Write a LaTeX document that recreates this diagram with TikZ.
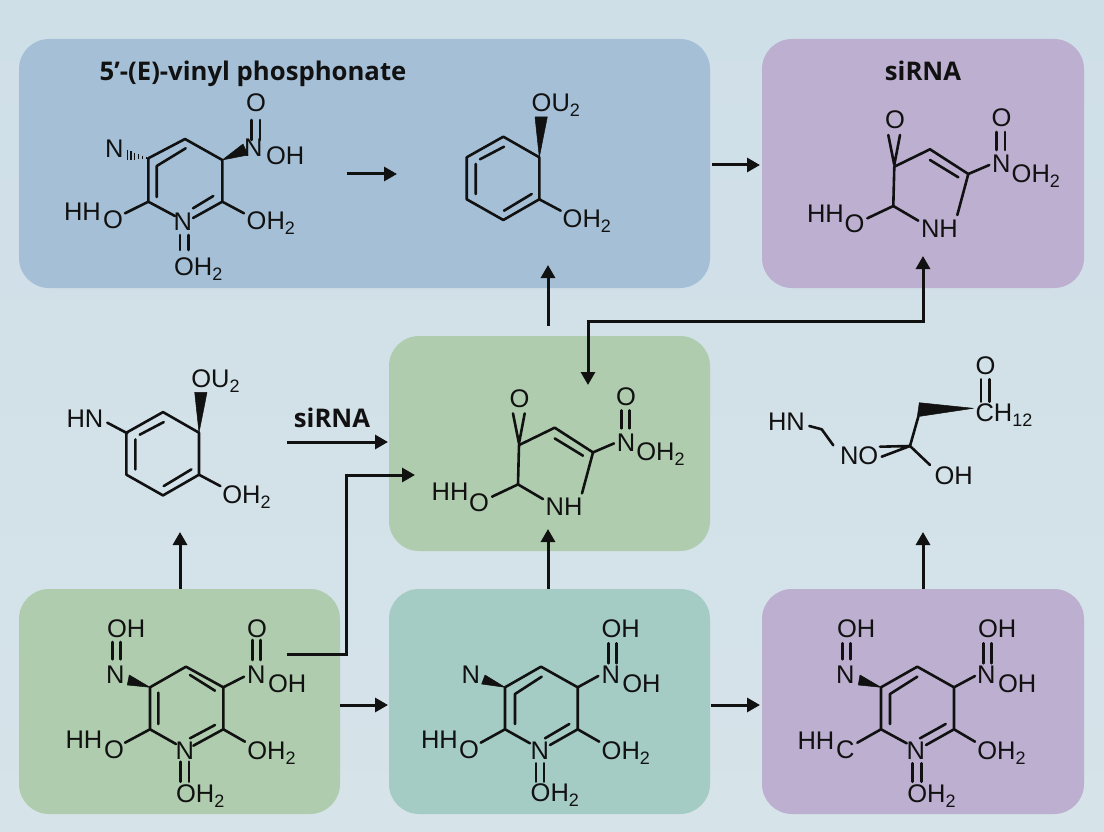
\documentclass[tikz,border=0pt]{standalone}
\usepackage{fontspec}
\setmainfont{Liberation Sans}
\newfontfamily\titlefont{Open Sans}[BoldFont={Open Sans Bold}]
\usetikzlibrary{arrows.meta}
\definecolor{bgtop}{HTML}{CFDFE8}
\definecolor{bgbot}{HTML}{D6E3E9}
\definecolor{cblue}{HTML}{A5C0D6}
\definecolor{cpurple}{HTML}{BCAFD0}
\definecolor{cgreen}{HTML}{AFCDAE}
\definecolor{cteal}{HTML}{A5CBC5}
\definecolor{ink}{HTML}{111111}
\tikzset{
  boxnode/.style={rounded corners=30pt,inner sep=0pt,outer sep=0pt,draw=none},
  bond/.style={draw=ink,line width=2.6pt,line cap=round,line join=round},
  wedge/.style={fill=ink,draw=ink,line width=0.5pt,line join=round},
  flow/.style={draw=ink,line width=3pt,-{Triangle[length=13pt,width=14pt]}},
  flowboth/.style={draw=ink,line width=3pt,{Triangle[length=13pt,width=14pt]}-{Triangle[length=13pt,width=14pt]}},
  atom/.style={inner sep=0pt,outer sep=0pt,text=ink,font=\fontsize{25.5}{25.5}\selectfont,anchor=base west},
  heading/.style={inner sep=0pt,outer sep=0pt,text=ink,font=\titlefont\bfseries\fontsize{25.7}{25.7}\selectfont},
}
\newcommand{\low}[1]{{\fontsize{18}{18}\selectfont\raisebox{-5pt}{#1}}}
% name, x (left), y (centre), text
\newcommand{\lab}[4]{\node[atom] (#1) at (#2,#3) [yshift=-9pt] {#4};}
\newcommand{\two}{OH\low{2}}
% five-membered molecule of the siRNA boxes
\newcommand{\molring}[3]{%
\begin{scope}[shift={(#2,#3)}]
  \lab{#1o}{885}{120}{O}
  \lab{#1hh}{807}{213.3}{HH}
  \lab{#1ob}{844.5}{224}{O}
  \lab{#1nh}{921}{228.3}{NH}
  \lab{#1n}{992.2}{164}{N}
  \lab{#1ot}{991.5}{117.7}{O}
  \lab{#1oh}{1011.7}{173.3}{\two}
  \draw[bond] (888.3,135)--(894.3,165)--(900,135);
  \draw[bond] (893.3,206)--(894.3,166.7)--(930,149.3)--(968.3,174)--(957.3,215);
  \draw[bond] (930,160)--(958.3,177.3);
  \draw[bond] (918.3,220.7)--(893.3,206)--(867.3,218.3);
  \draw[bond] (968.3,174)--(989.3,165);
  \draw[bond] (996.7,132)--(996.7,150) (1005,132)--(1005,150);
\end{scope}}
% six-membered ring with wedge and OU2
\newcommand{\molphenyl}[3]{%
\begin{scope}[shift={(#2,#3)}]
  \lab{#1ou}{531.7}{103}{OU\low{2}}
  \lab{#1oh}{562.7}{219}{\two}
  \draw[bond] (539.3,157.3)--(503.3,136.7)--(466.7,157.3)--(466.7,199.3)--(503.3,220)--(539.3,199.3)--cycle;
  \draw[bond] (480,159.3)--(504,146.7) (475.7,164)--(475.7,194) (504,210.7)--(531.7,194);
  \draw[bond] (539.3,199.3)--(560.7,210.7);
  \fill[wedge] (539.3,157.3)--(535,117)--(547.3,117)--cycle;
\end{scope}}
\begin{document}
\begin{tikzpicture}[x=1pt,y=-1pt]
\useasboundingbox (0,0) rectangle (1104,832);
\shade[top color=bgtop,bottom color=bgbot] (0,0) rectangle (1104,832);
% boxes
\node[boxnode,fill=cblue,minimum width=691pt,minimum height=249pt] (bA) at (364.5,163.5) {};
\node[boxnode,fill=cpurple,minimum width=322pt,minimum height=249pt] (bB) at (923,163.5) {};
\node[boxnode,fill=cgreen,minimum width=321pt,minimum height=215pt] (bC) at (549.5,443.5) {};
\node[boxnode,fill=cgreen,minimum width=321pt,minimum height=225pt] (bD) at (179.5,701.5) {};
\node[boxnode,fill=cteal,minimum width=321pt,minimum height=225pt] (bE) at (549.5,701.5) {};
\node[boxnode,fill=cpurple,minimum width=322pt,minimum height=225pt] (bF) at (923,701.5) {};
% titles
\node[heading,anchor=center] (t1) at (253,74) {5’-(E)-vinyl phosphonate};
\node[heading,anchor=center] (t2) at (923,71) {siRNA};
\node[heading,anchor=center] (t3) at (332,418) {siRNA};

% molecule in the blue box, left
\lab{a1}{105}{148.3}{N}
\lab{a2}{244}{147.3}{N}
\lab{a3}{266}{156}{OH}
\lab{a4}{246.2}{102.3}{O}
\lab{a5}{64}{212}{HH}
\lab{a6}{103}{220}{O}
\lab{a7}{246.7}{220.7}{\two}
\lab{a8}{173.5}{221.5}{N}
\lab{a9}{174}{266.7}{\two}
\draw[bond] (148.3,201.7)--(148.3,158.3)--(185,139)--(222.3,160)--(222.3,201.7)--(193,218);
\draw[bond] (156.7,166)--(185.7,148.3) (156.7,166)--(156.7,197) (213.3,196)--(193,208.3);
\draw[bond] (175,216)--(148.3,201.7)--(125,213.3);
\draw[bond] (222.3,201.7)--(244,213.3);
\draw[bond] (180,235)--(180,250) (188.3,235)--(188.3,250);
\draw[bond] (251.7,120)--(251.7,140) (260,120)--(260,140);
\fill[wedge] (222.3,160)--(243,144)--(248,155)--cycle;
\foreach \t in {0.1,0.28,0.46,0.64,0.82,1}{
  \draw[ink,line width=1.2pt] ({148.3-21*\t},{158.3-3.3*\t-(0.5+4.5*\t)})--({148.3-21*\t},{158.3-3.3*\t+(0.5+4.5*\t)});
}

\molphenyl{b}{0}{0}
\molphenyl{e}{-340.3}{275.4}
\lab{ehn}{66.5}{418.3}{HN}
\draw[bond] (127.3,433.3)--(107.3,422.7);

\molring{c}{0}{0}
\molring{d}{-375.3}{278.4}

% molecule right of the centre
\lab{f1}{768}{421.7}{HN}
\lab{f2}{840}{455}{NO}
\lab{f3}{934.5}{475.7}{OH}
\lab{f4}{975.5}{412.7}{CH\low{12}}
\lab{f5}{975.5}{365}{O}
\draw[bond] (809.3,426)--(821.7,429.3)--(833.3,445.3);
\draw[bond] (880,446.7)--(910,446)--(881.7,456.7);
\draw[bond] (930,465)--(910,446)--(918.3,416.7);
\draw[bond] (981,379.3)--(981,401.7) (989.3,379.3)--(989.3,401.7);
\fill[wedge] (973.3,408.3)--(919.3,402.7)--(917.3,416.7)--cycle;

% molecule G
\lab{g1}{107}{628.3}{OH}
\lab{g2}{106.2}{674}{N}
\lab{g3}{247.2}{674}{N}
\lab{g4}{268}{683.3}{OH}
\lab{g5}{247.2}{628.3}{O}
\lab{g6}{65.5}{739.3}{HH}
\lab{g7}{104}{749}{O}
\lab{g8}{247.3}{750}{\two}
\lab{g9}{175.5}{750}{N}
\lab{g10}{176}{793.3}{\two}
\draw[bond] (150,729.3)--(150,687.3)--(186,666.7)--(223.3,687.3)--(223.3,729.3)--(193.3,745.7);
\draw[bond] (158.3,692.7)--(158.3,724) (190,675)--(215,690.7) (215,725)--(190,738.3);
\draw[bond] (176,744)--(150,729.3)--(125,742.7);
\draw[bond] (223.3,729.3)--(245,741.7) (223.3,687.3)--(244,676.7);
\draw[bond] (112.3,642)--(112.3,659.3) (120.7,642)--(120.7,659.3);
\draw[bond] (252.7,640)--(252.7,660) (260.7,640)--(260.7,660);
\draw[bond] (180.7,761.7)--(180.7,781.7) (189,761.7)--(189,781.7);
\fill[wedge] (150,687.3)--(129.3,675)--(127.3,685)--cycle;

% molecule H
\lab{h1}{601.5}{628.3}{OH}
\lab{h2}{461.5}{674}{N}
\lab{h3}{601.5}{674}{N}
\lab{h4}{622.3}{683.3}{OH}
\lab{h5}{421}{739.3}{HH}
\lab{h6}{459}{749}{O}
\lab{h7}{601.7}{750}{\two}
\lab{h8}{530.5}{750}{N}
\lab{h9}{530.7}{792.7}{\two}
\draw[bond] (505,729.3)--(505,687.3)--(541,666.7)--(577.7,687.3)--(577.7,729.3)--(550,745);
\draw[bond] (541.7,676.7)--(515,694)--(515,724) (569.3,724)--(545,738.3);
\draw[bond] (530,743.3)--(505,729.3)--(480.7,742.7);
\draw[bond] (577.7,729.3)--(599.3,741.7) (577.7,687.3)--(598.3,676);
\draw[bond] (608.3,643.3)--(608.3,663.3) (616.7,643.3)--(616.7,663.3);
\draw[bond] (536,763.3)--(536,781.7) (544,763.3)--(544,781.7);
\fill[wedge] (505,687.3)--(485,675)--(481.7,684)--cycle;

% molecule I
\lab{i1}{837}{628.3}{OH}
\lab{i2}{836.2}{674}{N}
\lab{i3}{977.2}{674}{N}
\lab{i4}{998}{683.3}{OH}
\lab{i5}{978}{628.3}{OH}
\lab{i6}{797.5}{740}{HH}
\lab{i7}{836}{749}{C}
\lab{i8}{977.3}{750}{\two}
\lab{i9}{906.5}{750}{N}
\lab{i10}{907.3}{793.3}{\two}
\draw[bond] (881,729.3)--(881,687.3)--(917.3,666.7)--(954,687.3)--(954,729.3)--(926,745);
\draw[bond] (917.3,676.7)--(890,694)--(890,724) (945.7,724)--(920,738.3);
\draw[bond] (906.7,743.3)--(881,729.3)--(857.3,742.7);
\draw[bond] (954,729.3)--(975,741.7) (954,687.3)--(975,676);
\draw[bond] (842.3,643.3)--(842.3,659.3) (850.7,643.3)--(850.7,659.3);
\draw[bond] (983.3,643.3)--(983.3,663.3) (991.7,643.3)--(991.7,663.3);
\draw[bond] (912.7,763.3)--(912.7,781.7) (921.7,763.3)--(921.7,781.7);
\fill[wedge] (881,687.3)--(860,675)--(858.3,685)--cycle;

% flow connectors
\coordinate (p1) at (347,174); \coordinate (p2) at (397,174);
\coordinate (p3) at (548,326); \coordinate (p4) at (548,265);
\coordinate (p5) at (588,385); \coordinate (p6) at (588,321); \coordinate (p7) at (923,321); \coordinate (p8) at (923,256);
\coordinate (p9) at (287,442); \coordinate (p10) at (388,442);
\coordinate (p11) at (287,654); \coordinate (p12) at (346,654); \coordinate (p13) at (346,475); \coordinate (p14) at (415,475);
\coordinate (p15) at (180,589); \coordinate (p16) at (180,532);
\coordinate (p17) at (548,589); \coordinate (p18) at (548,529);
\coordinate (p19) at (923,589); \coordinate (p20) at (923,532);
\draw[flow] (p1)--(p2);
\draw[flow] ([yshift=-1.5pt,xshift=2pt]bA.east)--([yshift=-1.5pt,xshift=-2pt]bB.west);
\draw[flow] (p3)--(p4);
\draw[flowboth] (p5)--(p6)--(p7)--(p8);
\draw[flow] (p9)--(p10);
\draw[flow] (p11)--(p12)--(p13)--(p14);
\draw[flow] (p15)--(p16);
\draw[flow] (p17)--(p18);
\draw[flow] (p19)--(p20);
\draw[flow] ([yshift=-3.5pt]bD.east)--([yshift=-3.5pt,xshift=-1pt]bE.west);
\draw[flow] ([yshift=-3.5pt,xshift=1pt]bE.east)--([yshift=-3.5pt,xshift=-2pt]bF.west);
\end{tikzpicture}
\end{document}
